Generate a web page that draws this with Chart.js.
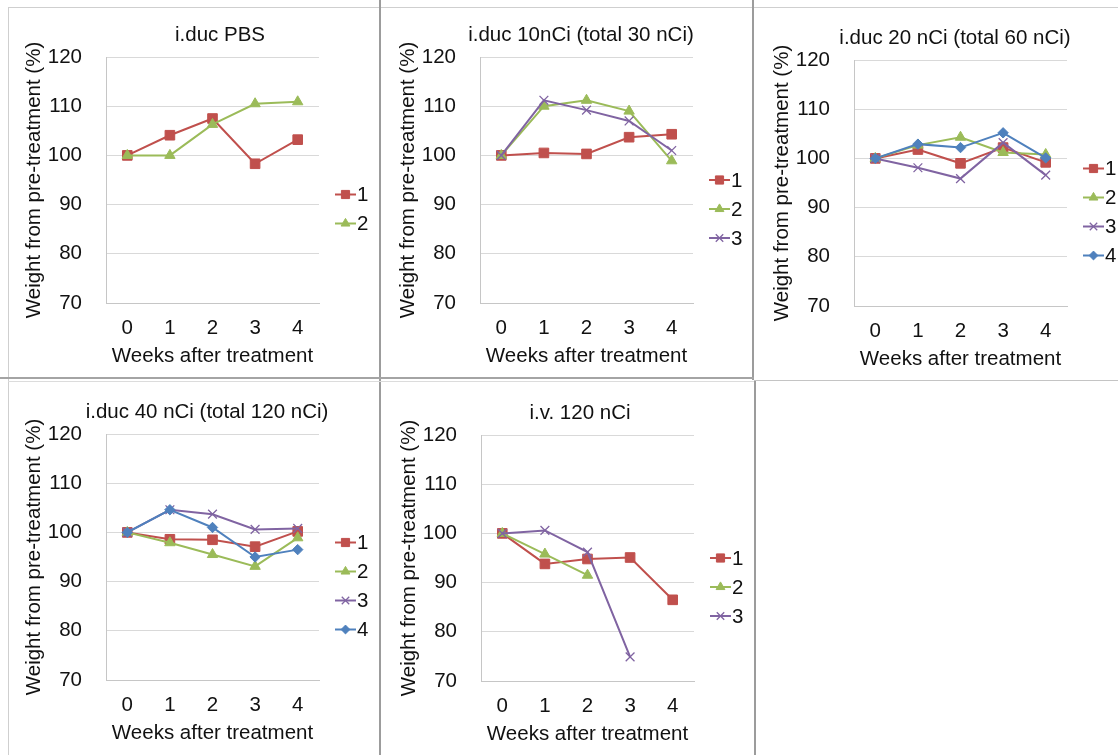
<!DOCTYPE html>
<html>
<head>
<meta charset="utf-8">
<script src="https://cdn.jsdelivr.net/npm/chart.js@4/dist/chart.umd.min.js"></script>
<style>
  html, body { margin: 0; padding: 0; background: #fff; }
  body { width: 1118px; height: 755px; position: relative; overflow: hidden; }
  canvas { position: absolute; }
  .ln { position: absolute; }
</style>
</head>
<body>
<div class="ln" style="left:8px;top:7px;width:1110px;height:1px;background:#cfcfcf"></div>
<div class="ln" style="left:8px;top:7px;width:1px;height:748px;background:#cfcfcf"></div>
<div class="ln" style="left:379px;top:0px;width:2px;height:755px;background:#9c9c9c"></div>
<div class="ln" style="left:752px;top:0px;width:2px;height:380px;background:#9c9c9c"></div>
<div class="ln" style="left:754px;top:380px;width:2px;height:375px;background:#9c9c9c"></div>
<div class="ln" style="left:0px;top:377px;width:754px;height:2px;background:#a4a4a4"></div>
<div class="ln" style="left:754px;top:380px;width:364px;height:1px;background:#c4c4c4"></div>
<div class="ln" style="left:8px;top:381px;width:746px;height:1px;background:#dcdcdc"></div>

<canvas id="c1" width="372" height="371" style="left:8px;top:7px"></canvas>
<canvas id="c2" width="372" height="371" style="left:382px;top:7px"></canvas>
<canvas id="c3" width="362" height="371" style="left:756px;top:10px"></canvas>
<canvas id="c4" width="372" height="371" style="left:8px;top:384px"></canvas>
<canvas id="c5" width="372" height="371" style="left:383px;top:385px"></canvas>

<script>
// ---- data ----
const weeks = ['0', '1', '2', '3', '4'];
const yTicks = [70, 80, 90, 100, 110, 120];

const pbs_m1 = [100, 104.1, 107.5, 98.3, 103.2];
const pbs_m2 = [100, 100.0, 106.3, 110.5, 110.9];

const d10_m1 = [100, 100.5, 100.3, 103.7, 104.3];
const d10_m2 = [100, 110.0, 111.2, 109.0, 98.9];
const d10_m3 = [100, 111.2, 109.2, 107.0, 101.0];

const d20_m1 = [100, 101.8, 99.0, 102.2, 99.2];
const d20_m2 = [100, 102.7, 104.3, 101.2, 100.8];
const d20_m3 = [100, 98.1, 95.9, 103.2, 96.6];
const d20_m4 = [100, 102.9, 102.2, 105.2, 100.1];

const d40_m1 = [100, 98.6, 98.5, 97.1, 100.2];
const d40_m2 = [100, 97.9, 95.5, 93.1, 98.9];
const d40_m3 = [100, 104.6, 103.7, 100.6, 100.8];
const d40_m4 = [100, 104.6, 101.0, 95.0, 96.5];

const iv_m1 = [100, 93.8, 94.8, 95.1, 86.5];
const iv_m2 = [100, 95.8, 91.5, null, null];
const iv_m3 = [100, 100.6, 96.2, 74.9, null];

const seriesNames = ['1', '2', '3', '4'];
const titles = ['i.duc PBS', 'i.duc 10nCi (total 30 nCi)', 'i.duc 20 nCi (total 60 nCi)',
                'i.duc 40 nCi (total 120 nCi)', 'i.v. 120 nCi'];

const panels = [
  { id: 'c1', title: titles[0], series: [pbs_m1, pbs_m2], titleX: 212 },
  { id: 'c2', title: titles[1], series: [d10_m1, d10_m2, d10_m3], titleX: 199 },
  { id: 'c3', title: titles[2], series: [d20_m1, d20_m2, d20_m3, d20_m4], titleX: 199 },
  { id: 'c4', title: titles[3], series: [d40_m1, d40_m2, d40_m3, d40_m4], titleX: 199 },
  { id: 'c5', title: titles[4], series: [iv_m1, iv_m2, iv_m3], titleX: 197 }
];

// ---- styles ----
const FONT = "'Liberation Sans', Arial, sans-serif";
const FS = 20.5;
const styles = [
  { color: '#C0504D', pointStyle: 'rect', radius: 6.8, bw: 1 },
  { color: '#9BBB59', pointStyle: 'triangle', radius: 6, bw: 1 },
  { color: '#8064A2', pointStyle: 'crossRot', radius: 6.2, bw: 1.3 },
  { color: '#4F81BD', pointStyle: 'rectRot', radius: 5.2, bw: 1 }
];

const titlePlugin = {
  id: 'panelTitle',
  afterDraw(chart, args, opts) {
    const ctx = chart.ctx;
    ctx.save();
    ctx.fillStyle = '#111';
    ctx.font = FS + 'px ' + FONT;
    ctx.textAlign = 'center';
    ctx.textBaseline = 'middle';
    ctx.fillText(opts.text, opts.x, 28.5);
    ctx.restore();
  }
};

const legendPlugin = {
  id: 'sideLegend',
  afterDraw(chart) {
    const ctx = chart.ctx;
    const ca = chart.chartArea;
    const ds = chart.data.datasets;
    const n = ds.length;
    const cy = 202;
    const step = 29;
    ctx.save();
    ds.forEach((d, i) => {
      const st = styles[i];
      const y = cy + (i - (n - 1) / 2) * step;
      const x0 = ca.right + 16;
      ctx.strokeStyle = st.color;
      ctx.lineWidth = 2;
      ctx.beginPath();
      ctx.moveTo(x0, y);
      ctx.lineTo(x0 + 21, y);
      ctx.stroke();
      ctx.fillStyle = st.color;
      ctx.strokeStyle = st.color;
      ctx.lineWidth = st.bw;
      Chart.helpers.drawPoint(ctx, { pointStyle: st.pointStyle, radius: st.radius * 0.85, rotation: 0, borderWidth: st.bw }, x0 + 10.5, y);
      ctx.fillStyle = '#111';
      ctx.font = FS + 'px ' + FONT;
      ctx.textBaseline = 'middle';
      ctx.textAlign = 'left';
      ctx.fillText(d.label, x0 + 22, y + 1);
    });
    ctx.restore();
  }
};

panels.forEach(p => {
  const canvas = document.getElementById(p.id);
  const W = canvas.width;
  const datasets = p.series.map((vals, i) => ({
    label: seriesNames[i],
    data: vals,
    borderColor: styles[i].color,
    backgroundColor: styles[i].color,
    pointBackgroundColor: styles[i].color,
    pointBorderColor: styles[i].color,
    pointStyle: styles[i].pointStyle,
    pointRadius: styles[i].radius,
    pointBorderWidth: styles[i].bw,
    borderWidth: 2,
    tension: 0,
    spanGaps: false,
    order: -i
  }));
  new Chart(canvas, {
    type: 'line',
    data: { labels: weeks, datasets },
    plugins: [legendPlugin, titlePlugin],
    options: {
      responsive: false,
      animation: false,
      devicePixelRatio: 1,
      layout: { padding: { left: 0, right: W - 311, top: 50, bottom: 0 } },
      plugins: {
        legend: { display: false },
        tooltip: { enabled: false },
        title: { display: false },
        panelTitle: { text: p.title, x: p.titleX }
      },
      scales: {
        x: {
          type: 'category',
          offset: true,
          grid: { display: false, drawTicks: false },
          border: { display: true, color: '#c6c6c6', width: 1 },
          ticks: { color: '#111', font: { family: FONT, size: FS }, padding: 13, maxRotation: 0 },
          title: {
            display: true, text: 'Weeks after treatment', color: '#111',
            font: { family: FONT, size: FS, lineHeight: 1.2 }, padding: { top: 0, bottom: 9 }
          },
          afterFit(s) { s.height = 75; }
        },
        y: {
          min: 70, max: 120,
          afterBuildTicks(s) { s.ticks = yTicks.map(v => ({ value: v })); },
          grid: { color: '#d9d9d9', lineWidth: 1, drawTicks: false },
          border: { display: true, color: '#c6c6c6', width: 1 },
          ticks: { color: '#111', font: { family: FONT, size: FS }, padding: 24 },
          title: {
            display: true, text: 'Weight from pre-treatment (%)', color: '#111',
            font: { family: FONT, size: FS, lineHeight: 1.2 }, padding: { top: 14, bottom: 0 }
          },
          afterFit(s) { s.width = 98; }
        }
      }
    }
  });
});
</script>
</body>
</html>
